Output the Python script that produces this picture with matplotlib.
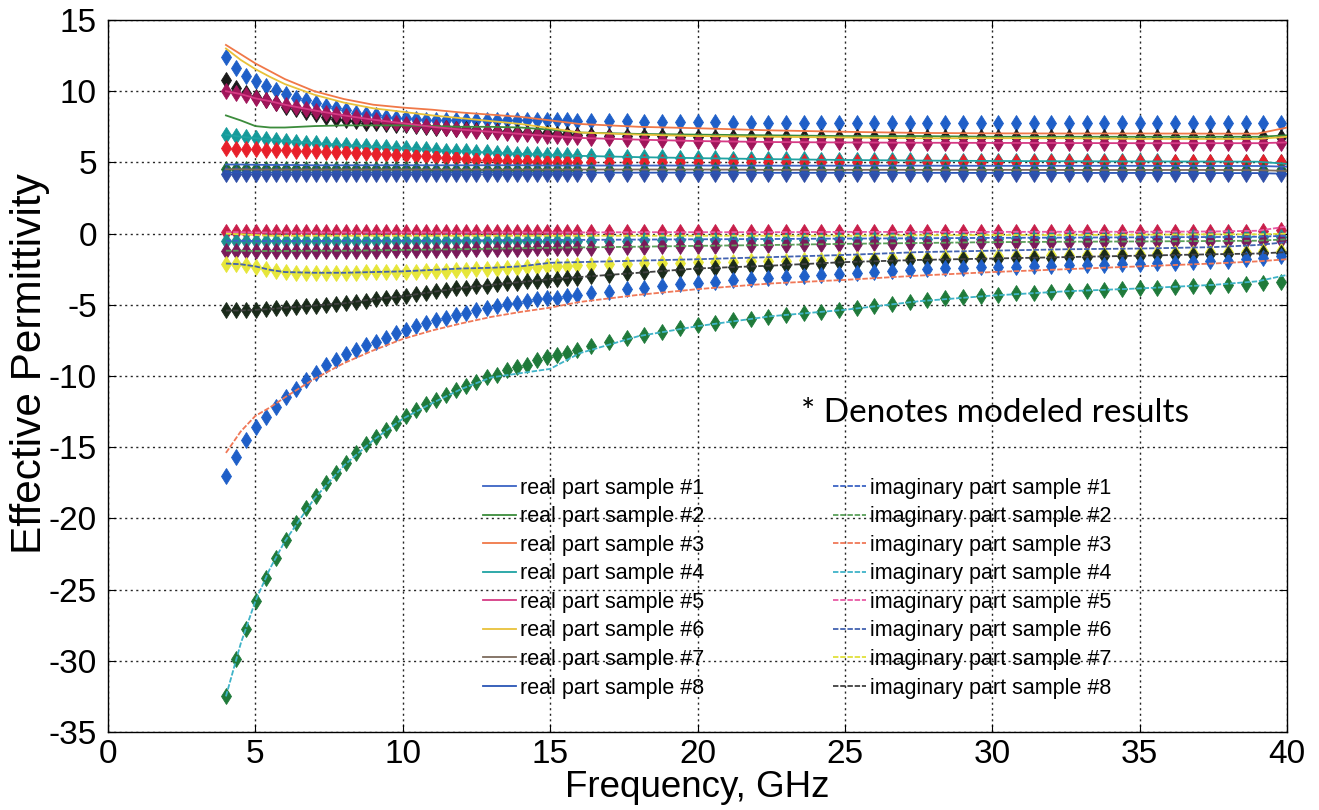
import numpy as np
import matplotlib
matplotlib.use("Agg")
import matplotlib.pyplot as plt

# measured curves (lines), frequency knots in GHz
f_line = [4, 4.5, 5, 5.5, 6, 7, 8, 9, 10, 11, 12, 13, 14, 15, 16, 18, 20, 22.5, 25, 27.5, 30, 32.5, 35, 37.5, 39, 40]

real1 = [4.85, 4.85, 4.83, 4.82, 4.82, 4.8, 4.8, 4.8, 4.8, 4.8, 4.8, 4.8, 4.8, 4.78, 4.78, 4.78, 4.78, 4.77, 4.77, 4.77, 4.76, 4.76, 4.76, 4.75, 4.75, 4.7]
real2 = [8.3, 7.95, 7.55, 7.45, 7.45, 7.55, 7.6, 7.6, 7.6, 7.55, 7.5, 7.5, 7.45, 7.3, 7.1, 7.0, 6.95, 6.9, 6.85, 6.85, 6.8, 6.8, 6.8, 6.8, 6.8, 6.9]
real3 = [13.25, 12.6, 11.95, 11.4, 10.85, 10.0, 9.45, 9.05, 8.85, 8.7, 8.5, 8.35, 8.2, 7.95, 7.7, 7.5, 7.4, 7.25, 7.15, 7.07, 7.04, 7.03, 7.03, 7.02, 7.02, 7.45]
real4 = [6.95, 6.8, 6.7, 6.6, 6.5, 6.35, 6.22, 6.1, 6.0, 5.88, 5.78, 5.68, 5.6, 5.52, 5.46, 5.37, 5.3, 5.23, 5.17, 5.13, 5.1, 5.08, 5.07, 5.06, 5.05, 4.9]
real5 = [10.0, 9.8, 9.5, 9.3, 9.05, 8.65, 8.3, 8.0, 7.75, 7.5, 7.3, 7.15, 7.0, 6.85, 6.72, 6.6, 6.5, 6.43, 6.4, 6.38, 6.37, 6.36, 6.35, 6.35, 6.35, 6.4]
real6 = [13.0, 12.2, 11.55, 11.0, 10.5, 9.75, 9.2, 8.8, 8.55, 8.3, 8.1, 7.9, 7.7, 7.4, 7.1, 6.95, 6.85, 6.8, 6.75, 6.7, 6.7, 6.7, 6.65, 6.65, 6.65, 6.8]
real7 = [4.52, 4.52, 4.5, 4.5, 4.5, 4.5, 4.5, 4.5, 4.5, 4.5, 4.5, 4.5, 4.5, 4.5, 4.5, 4.5, 4.5, 4.48, 4.48, 4.48, 4.48, 4.47, 4.47, 4.47, 4.46, 4.4]
real8 = [4.3, 4.3, 4.3, 4.3, 4.3, 4.3, 4.3, 4.3, 4.3, 4.3, 4.3, 4.3, 4.28, 4.28, 4.28, 4.28, 4.28, 4.27, 4.27, 4.27, 4.26, 4.26, 4.26, 4.25, 4.25, 4.2]

imag1 = [-0.5, -0.5, -0.52, -0.52, -0.52, -0.52, -0.5, -0.5, -0.5, -0.5, -0.48, -0.47, -0.46, -0.45, -0.44, -0.42, -0.4, -0.38, -0.35, -0.33, -0.3, -0.28, -0.26, -0.24, -0.22, -0.15]
imag2 = [-1.2, -1.2, -1.22, -1.22, -1.22, -1.2, -1.2, -1.18, -1.15, -1.12, -1.1, -1.06, -1.03, -1.0, -0.97, -0.92, -0.86, -0.8, -0.72, -0.66, -0.6, -0.57, -0.55, -0.52, -0.5, -0.4]
imag3 = [-15.4, -13.9, -12.8, -12.2, -11.5, -10.2, -9.1, -8.2, -7.4, -6.8, -6.3, -5.85, -5.5, -5.2, -4.8, -4.3, -3.9, -3.5, -3.25, -2.95, -2.7, -2.5, -2.3, -2.1, -1.95, -1.8]
imag4 = [-32.5, -28.8, -25.8, -23.5, -21.6, -18.6, -16.3, -14.5, -13.0, -11.9, -10.9, -10.1, -9.8, -9.5, -8.4, -7.2, -6.5, -5.8, -5.35, -4.75, -4.35, -4.05, -3.85, -3.6, -3.35, -2.9]
imag5 = [0.1, 0.1, 0.08, 0.08, 0.08, 0.08, 0.08, 0.08, 0.08, 0.08, 0.08, 0.08, 0.08, 0.08, 0.08, 0.1, 0.1, 0.1, 0.12, 0.12, 0.12, 0.13, 0.13, 0.15, 0.2, 0.5]
imag6 = [-2.1, -2.15, -2.3, -2.55, -2.7, -2.75, -2.75, -2.7, -2.65, -2.55, -2.45, -2.4, -2.3, -2.05, -2.0, -1.9, -1.8, -1.65, -1.5, -1.3, -1.2, -1.1, -1.05, -0.95, -0.8, -0.6]
imag7 = [0.0, -0.05, -0.1, -0.15, -0.15, -0.15, -0.15, -0.15, -0.15, -0.15, -0.15, -0.15, -0.15, -0.15, -0.15, -0.15, -0.15, -0.15, -0.15, -0.12, -0.1, -0.1, -0.08, -0.05, -0.05, 0.0]
imag8 = [-5.4, -5.4, -5.35, -5.3, -5.2, -5.05, -4.9, -4.6, -4.4, -4.1, -3.8, -3.6, -3.4, -3.2, -3.05, -2.75, -2.45, -2.25, -2.0, -1.85, -1.75, -1.65, -1.55, -1.45, -1.4, -1.3]

# modeled results (markers)
f_model = [4.00, 4.34, 4.68, 5.02, 5.36, 5.70, 6.04, 6.38, 6.72, 7.06,
           7.40, 7.74, 8.08, 8.42, 8.76, 9.10, 9.44, 9.78, 10.12, 10.46,
           10.80, 11.14, 11.48, 11.82, 12.16, 12.50, 12.84, 13.18, 13.52, 13.86,
           14.20, 14.54, 14.88, 15.22, 15.56, 15.90, 16.4, 17.0, 17.6, 18.2,
           18.8, 19.4, 20.0, 20.6, 21.2, 21.8, 22.4, 23.0, 23.6, 24.2,
           24.8, 25.4, 26.0, 26.6, 27.2, 27.8, 28.4, 29.0, 29.6, 30.2,
           30.8, 31.4, 32.0, 32.6, 33.2, 33.8, 34.4, 35.0, 35.6, 36.2,
           36.8, 37.4, 38.0, 38.6, 39.2, 39.8]

model_a = [12.4, 11.65, 11.1, 10.75, 10.4, 10.1, 9.8, 9.55, 9.35, 9.15,
           8.95, 8.8, 8.65, 8.5, 8.4, 8.3, 8.2, 8.15, 8.1, 8.05,
           8.0, 7.98, 7.96, 7.95, 7.95, 7.95, 7.95, 7.95, 7.95, 7.95,
           7.95, 7.95, 7.95, 7.95, 7.95, 7.93, 7.9, 7.9, 7.88, 7.86,
           7.85, 7.84, 7.82, 7.81, 7.8, 7.8, 7.79, 7.78, 7.78, 7.77,
           7.77, 7.76, 7.76, 7.76, 7.75, 7.75, 7.75, 7.75, 7.75, 7.75,
           7.75, 7.75, 7.75, 7.75, 7.75, 7.75, 7.75, 7.75, 7.75, 7.75,
           7.75, 7.75, 7.75, 7.75, 7.75, 7.75]
model_b = [10.8, 10.2, 9.85, 9.6, 9.38, 9.15, 8.92, 8.72, 8.55, 8.38,
           8.22, 8.08, 7.96, 7.88, 7.8, 7.74, 7.68, 7.64, 7.6, 7.55,
           7.5, 7.45, 7.4, 7.36, 7.32, 7.28, 7.24, 7.2, 7.16, 7.12,
           7.09, 7.06, 7.04, 7.0, 6.97, 6.94, 6.9, 6.87, 6.85, 6.83,
           6.82, 6.81, 6.8, 6.8, 6.8, 6.8, 6.8, 6.8, 6.8, 6.8,
           6.8, 6.8, 6.8, 6.8, 6.8, 6.8, 6.8, 6.8, 6.8, 6.8,
           6.8, 6.8, 6.8, 6.8, 6.8, 6.8, 6.8, 6.8, 6.8, 6.8,
           6.8, 6.8, 6.8, 6.8, 6.8, 6.8]
model_c = [10.0, 9.85, 9.7, 9.5, 9.35, 9.2, 9.05, 8.9, 8.75, 8.62,
           8.5, 8.38, 8.27, 8.16, 8.06, 7.96, 7.87, 7.78, 7.7, 7.62,
           7.55, 7.48, 7.42, 7.36, 7.3, 7.24, 7.18, 7.12, 7.07, 7.02,
           6.97, 6.92, 6.88, 6.84, 6.8, 6.76, 6.72, 6.68, 6.64, 6.6,
           6.57, 6.54, 6.51, 6.49, 6.47, 6.45, 6.43, 6.42, 6.41, 6.4,
           6.4, 6.4, 6.39, 6.39, 6.38, 6.38, 6.37, 6.37, 6.37, 6.36,
           6.36, 6.36, 6.36, 6.36, 6.36, 6.36, 6.36, 6.36, 6.36, 6.36,
           6.35, 6.35, 6.35, 6.35, 6.35, 6.35]
model_d = [6.92, 6.85, 6.77, 6.7, 6.63, 6.56, 6.5, 6.44, 6.38, 6.33,
           6.29, 6.25, 6.22, 6.18, 6.14, 6.1, 6.06, 6.02, 5.99, 5.95,
           5.91, 5.87, 5.83, 5.8, 5.77, 5.74, 5.71, 5.68, 5.65, 5.62,
           5.6, 5.57, 5.55, 5.52, 5.5, 5.48, 5.45, 5.42, 5.4, 5.37,
           5.35, 5.33, 5.31, 5.29, 5.27, 5.25, 5.24, 5.22, 5.21, 5.2,
           5.18, 5.17, 5.16, 5.15, 5.14, 5.13, 5.12, 5.11, 5.1, 5.1,
           5.1, 5.09, 5.09, 5.08, 5.08, 5.08, 5.07, 5.07, 5.07, 5.06,
           5.06, 5.06, 5.06, 5.05, 5.05, 5.05]
model_e = [5.99, 5.97, 5.95, 5.92, 5.9, 5.88, 5.86, 5.83, 5.81, 5.79,
           5.76, 5.73, 5.7, 5.67, 5.63, 5.6, 5.57, 5.53, 5.5, 5.46,
           5.42, 5.37, 5.32, 5.28, 5.24, 5.2, 5.17, 5.14, 5.11, 5.09,
           5.07, 5.06, 5.05, 5.04, 5.03, 5.02, 5.01, 5.0, 5.0, 5.0,
           5.0, 5.0, 5.0, 5.0, 5.0, 5.0, 5.0, 5.0, 5.0, 5.0,
           5.0, 5.0, 5.0, 5.0, 5.0, 5.0, 5.0, 5.0, 5.0, 5.0,
           5.0, 5.0, 5.0, 5.0, 5.0, 5.0, 5.0, 5.0, 5.0, 5.0,
           5.0, 5.0, 5.0, 5.0, 5.0, 5.0]
model_f = [4.55, 4.55, 4.55, 4.55, 4.54, 4.54, 4.54, 4.53, 4.53, 4.53,
           4.52, 4.52, 4.52, 4.52, 4.52, 4.52, 4.52, 4.52, 4.52, 4.52,
           4.5, 4.5, 4.5, 4.5, 4.5, 4.5, 4.5, 4.5, 4.5, 4.5,
           4.5, 4.5, 4.5, 4.5, 4.5, 4.5, 4.5, 4.5, 4.5, 4.5,
           4.5, 4.5, 4.5, 4.5, 4.5, 4.5, 4.5, 4.5, 4.5, 4.5,
           4.5, 4.5, 4.5, 4.5, 4.5, 4.5, 4.5, 4.5, 4.5, 4.5,
           4.5, 4.5, 4.5, 4.5, 4.5, 4.5, 4.5, 4.5, 4.5, 4.5,
           4.5, 4.5, 4.5, 4.5, 4.5, 4.5]
model_g = [4.22, 4.22, 4.22, 4.22, 4.22, 4.21, 4.21, 4.21, 4.21, 4.21,
           4.2, 4.2, 4.2, 4.2, 4.2, 4.2, 4.2, 4.2, 4.2, 4.2,
           4.2, 4.2, 4.2, 4.2, 4.2, 4.2, 4.2, 4.2, 4.2, 4.2,
           4.2, 4.2, 4.2, 4.2, 4.2, 4.2, 4.2, 4.2, 4.2, 4.2,
           4.2, 4.2, 4.2, 4.2, 4.2, 4.2, 4.2, 4.2, 4.2, 4.2,
           4.2, 4.2, 4.2, 4.2, 4.2, 4.2, 4.2, 4.2, 4.2, 4.2,
           4.2, 4.2, 4.2, 4.2, 4.2, 4.2, 4.2, 4.2, 4.2, 4.2,
           4.2, 4.2, 4.2, 4.2, 4.2, 4.2]
model_h = [0.1, 0.1, 0.1, 0.1, 0.1, 0.1, 0.1, 0.1, 0.1, 0.1,
           0.1, 0.1, 0.1, 0.1, 0.1, 0.1, 0.1, 0.1, 0.1, 0.1,
           0.1, 0.1, 0.1, 0.1, 0.1, 0.1, 0.1, 0.1, 0.1, 0.1,
           0.1, 0.1, 0.1, 0.1, 0.1, 0.1, 0.1, 0.1, 0.1, 0.1,
           0.1, 0.1, 0.1, 0.1, 0.1, 0.1, 0.1, 0.1, 0.1, 0.1,
           0.1, 0.1, 0.1, 0.1, 0.1, 0.1, 0.1, 0.1, 0.1, 0.1,
           0.1, 0.1, 0.1, 0.1, 0.1, 0.1, 0.1, 0.1, 0.1, 0.1,
           0.1, 0.1, 0.12, 0.14, 0.17, 0.22]
model_i = [-0.55, -0.55, -0.55, -0.55, -0.55, -0.55, -0.55, -0.55, -0.55, -0.55,
           -0.55, -0.55, -0.55, -0.55, -0.55, -0.55, -0.55, -0.55, -0.55, -0.55,
           -0.54, -0.54, -0.54, -0.54, -0.53, -0.53, -0.53, -0.53, -0.53, -0.52,
           -0.52, -0.52, -0.51, -0.51, -0.51, -0.5, -0.5, -0.49, -0.49, -0.48,
           -0.48, -0.47, -0.46, -0.46, -0.45, -0.44, -0.44, -0.43, -0.42, -0.42,
           -0.41, -0.4, -0.39, -0.39, -0.38, -0.37, -0.37, -0.36, -0.35, -0.35,
           -0.34, -0.33, -0.33, -0.32, -0.31, -0.31, -0.3, -0.29, -0.29, -0.28,
           -0.27, -0.26, -0.25, -0.24, -0.23, -0.22]
model_j = [-1.2, -1.2, -1.2, -1.2, -1.2, -1.2, -1.2, -1.2, -1.2, -1.2,
           -1.2, -1.2, -1.2, -1.2, -1.19, -1.19, -1.18, -1.18, -1.17, -1.16,
           -1.15, -1.14, -1.13, -1.12, -1.11, -1.1, -1.09, -1.08, -1.07, -1.06,
           -1.05, -1.04, -1.03, -1.02, -1.01, -1.0, -0.98, -0.96, -0.94, -0.92,
           -0.9, -0.88, -0.86, -0.84, -0.82, -0.8, -0.78, -0.77, -0.75, -0.74,
           -0.72, -0.7, -0.69, -0.67, -0.66, -0.65, -0.64, -0.63, -0.62, -0.61,
           -0.6, -0.59, -0.58, -0.57, -0.56, -0.55, -0.55, -0.54, -0.53, -0.53,
           -0.52, -0.51, -0.5, -0.5, -0.49, -0.48]
model_k = [-2.1, -2.15, -2.2, -2.35, -2.5, -2.65, -2.7, -2.75, -2.75, -2.75,
           -2.75, -2.75, -2.75, -2.74, -2.73, -2.72, -2.71, -2.7, -2.69, -2.67,
           -2.65, -2.62, -2.6, -2.57, -2.55, -2.52, -2.49, -2.46, -2.43, -2.4,
           -2.37, -2.34, -2.3, -2.27, -2.24, -2.21, -2.18, -2.15, -2.12, -2.09,
           -2.07, -2.04, -2.01, -1.99, -1.96, -1.94, -1.91, -1.89, -1.86, -1.84,
           -1.81, -1.79, -1.76, -1.74, -1.71, -1.69, -1.66, -1.64, -1.61, -1.59,
           -1.57, -1.54, -1.52, -1.5, -1.47, -1.45, -1.43, -1.4, -1.38, -1.36,
           -1.34, -1.31, -1.29, -1.27, -1.25, -1.22]
model_l = [-5.4, -5.4, -5.4, -5.35, -5.3, -5.25, -5.2, -5.15, -5.1, -5.05,
           -5.0, -4.95, -4.9, -4.8, -4.7, -4.6, -4.5, -4.45, -4.35, -4.25,
           -4.15, -4.05, -3.95, -3.85, -3.8, -3.7, -3.65, -3.55, -3.5, -3.45,
           -3.35, -3.3, -3.25, -3.2, -3.15, -3.1, -3.0, -2.9, -2.8, -2.72,
           -2.65, -2.55, -2.45, -2.4, -2.35, -2.3, -2.25, -2.2, -2.15, -2.1,
           -2.0, -1.98, -1.95, -1.9, -1.88, -1.85, -1.82, -1.8, -1.78, -1.75,
           -1.72, -1.7, -1.68, -1.65, -1.62, -1.6, -1.57, -1.55, -1.52, -1.5,
           -1.48, -1.45, -1.42, -1.4, -1.38, -1.35]
model_m = [-17.0, -15.7, -14.5, -13.6, -12.9, -12.2, -11.45, -10.9, -10.3, -9.8,
           -9.2, -8.9, -8.45, -8.2, -7.8, -7.6, -7.3, -7.0, -6.8, -6.5,
           -6.3, -6.1, -5.9, -5.7, -5.55, -5.35, -5.25, -5.1, -4.95, -4.85,
           -4.7, -4.6, -4.55, -4.5, -4.4, -4.3, -4.2, -4.1, -3.9, -3.8,
           -3.7, -3.55, -3.45, -3.4, -3.25, -3.2, -3.15, -3.05, -3.0, -2.9,
           -2.85, -2.75, -2.7, -2.6, -2.55, -2.5, -2.45, -2.4, -2.38, -2.35,
           -2.32, -2.3, -2.25, -2.22, -2.2, -2.17, -2.14, -2.1, -2.07, -2.04,
           -2.0, -1.95, -1.9, -1.8, -1.7, -1.55]
model_n = [-32.5, -29.9, -27.8, -25.8, -24.2, -22.8, -21.5, -20.3, -19.3, -18.4,
           -17.5, -16.8, -16.1, -15.4, -14.8, -14.3, -13.8, -13.3, -12.8, -12.4,
           -12.0, -11.7, -11.3, -11.0, -10.7, -10.4, -10.1, -9.9, -9.6, -9.4,
           -9.2, -8.9, -8.7, -8.5, -8.4, -8.2, -7.9, -7.6, -7.35, -7.1,
           -6.9, -6.65, -6.45, -6.3, -6.1, -6.0, -5.85, -5.7, -5.6, -5.5,
           -5.4, -5.25, -5.1, -4.95, -4.8, -4.65, -4.55, -4.45, -4.35, -4.3,
           -4.2, -4.15, -4.1, -4.05, -4.0, -3.95, -3.9, -3.85, -3.8, -3.75,
           -3.7, -3.65, -3.6, -3.55, -3.5, -3.4]

real_lines = [real1, real2, real3, real4, real5, real6, real7, real8]
imag_lines = [imag1, imag2, imag3, imag4, imag5, imag6, imag7, imag8]
real_colors = ['#3b63c4', '#3c8c3c', '#f07848', '#1fa3a3', '#d63b85', '#e8c13a', '#7d6b5d', '#2a55b5']
imag_colors = ['#3b63c4', '#5aa05a', '#f07858', '#3fb3c8', '#e85aa5', '#4262b0', '#e0e03a', '#404040']

models = [model_a, model_b, model_c, model_d, model_e, model_f, model_g,
          model_h, model_i, model_j, model_k, model_l, model_m, model_n]
model_colors = ['#1f5fc8', '#1a1a1a', '#a0155a', '#159a9a', '#e8202a', '#1f6b35', '#2f4fa8',
                '#c81e4a', '#1e8f8f', '#7a1a5a', '#e6e63a', '#1a2a1a', '#1f5fc8', '#1f7a3a']

plt.rcParams['font.family'] = ['Liberation Sans', 'DejaVu Sans']
plt.rcParams['axes.unicode_minus'] = False

fig = plt.figure(figsize=(13.19, 8.10), dpi=100)
ax = fig.add_axes([0.0819, 0.0963, 0.8939, 0.879])

for vals, c in zip(models, model_colors):
    ax.plot(f_model, vals, linestyle='none', marker='d', markersize=8,
            color=c, markeredgewidth=0.6, zorder=2)

for i, (vals, c) in enumerate(zip(real_lines, real_colors)):
    ax.plot(f_line, vals, '-', color=c, lw=1.3, zorder=3,
            label='real part sample #%d' % (i + 1))
for i, (vals, c) in enumerate(zip(imag_lines, imag_colors)):
    ax.plot(f_line, vals, linestyle=(0, (3, 1)), color=c, lw=1.3, zorder=3,
            label='imaginary part sample #%d' % (i + 1))

ax.set_xlim(0, 40)
ax.set_ylim(-35, 15)
ax.set_xticks(range(0, 41, 5))
ax.set_yticks(range(-35, 16, 5))
ax.grid(True, color='0.15', linestyle=(0, (1.5, 2.5)), lw=1.0)
ax.tick_params(direction='in', length=6, top=True, right=True, labelsize=24)
ax.tick_params(axis='x', pad=5)
ax.tick_params(axis='y', pad=8)
for s in ax.spines.values():
    s.set_linewidth(1.0)

ax.set_xlabel('Frequency, GHz', fontsize=26.5, labelpad=0)
ax.set_ylabel('Effective Permittivity', fontsize=30.5)
ax.yaxis.set_label_coords(-0.0495, 0.517)

ax.text(23.5, -12.6, '* Denotes modeled results', fontsize=24, family='Lato',
        ha='left', va='center')

ax.legend(loc='upper left', bbox_to_anchor=(0.318, 0.357), ncol=2, frameon=False,
          fontsize=15.5, handlelength=1.55, handletextpad=0.15, labelspacing=0.35,
          columnspacing=6.0, borderpad=0, borderaxespad=0)

fig.savefig('out.png', dpi=100, facecolor='white')
